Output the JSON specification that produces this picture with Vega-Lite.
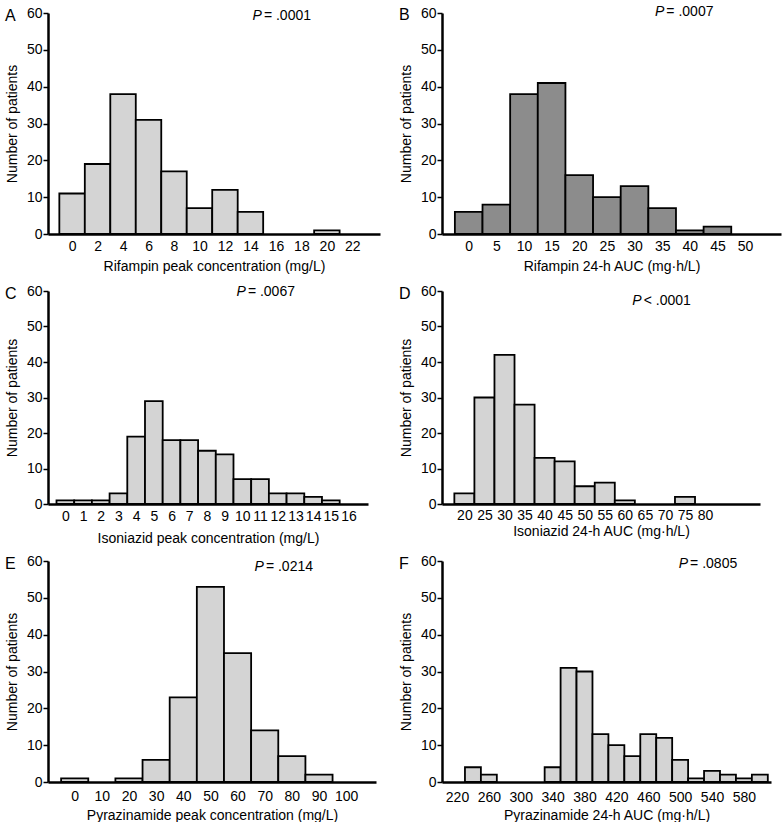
{
  "$schema": "https://vega.github.io/schema/vega-lite/v6.json",
  "background": "white",
  "padding": {"left": 5, "right": 5, "top": 4, "bottom": 0},
  "columns": 2,
  "spacing": {"row": 57, "column": 62},
  "bounds": "flush",
  "datasets": {
    "A": [
      {"lo": -1, "hi": 1, "n": 11}, {"lo": 1, "hi": 3, "n": 19}, {"lo": 3, "hi": 5, "n": 38},
      {"lo": 5, "hi": 7, "n": 31}, {"lo": 7, "hi": 9, "n": 17}, {"lo": 9, "hi": 11, "n": 7},
      {"lo": 11, "hi": 13, "n": 12}, {"lo": 13, "hi": 15, "n": 6}, {"lo": 19, "hi": 21, "n": 1}
    ],
    "B": [
      {"lo": -2.5, "hi": 2.5, "n": 6}, {"lo": 2.5, "hi": 7.5, "n": 8}, {"lo": 7.5, "hi": 12.5, "n": 38},
      {"lo": 12.5, "hi": 17.5, "n": 41}, {"lo": 17.5, "hi": 22.5, "n": 16}, {"lo": 22.5, "hi": 27.5, "n": 10},
      {"lo": 27.5, "hi": 32.5, "n": 13}, {"lo": 32.5, "hi": 37.5, "n": 7}, {"lo": 37.5, "hi": 42.5, "n": 1},
      {"lo": 42.5, "hi": 47.5, "n": 2}
    ],
    "C": [
      {"lo": -0.5, "hi": 0.5, "n": 1}, {"lo": 0.5, "hi": 1.5, "n": 1}, {"lo": 1.5, "hi": 2.5, "n": 1},
      {"lo": 2.5, "hi": 3.5, "n": 3}, {"lo": 3.5, "hi": 4.5, "n": 19}, {"lo": 4.5, "hi": 5.5, "n": 29},
      {"lo": 5.5, "hi": 6.5, "n": 18}, {"lo": 6.5, "hi": 7.5, "n": 18}, {"lo": 7.5, "hi": 8.5, "n": 15},
      {"lo": 8.5, "hi": 9.5, "n": 14}, {"lo": 9.5, "hi": 10.5, "n": 7}, {"lo": 10.5, "hi": 11.5, "n": 7},
      {"lo": 11.5, "hi": 12.5, "n": 3}, {"lo": 12.5, "hi": 13.5, "n": 3}, {"lo": 13.5, "hi": 14.5, "n": 2},
      {"lo": 14.5, "hi": 15.5, "n": 1}
    ],
    "D": [
      {"lo": 17.5, "hi": 22.5, "n": 3}, {"lo": 22.5, "hi": 27.5, "n": 30}, {"lo": 27.5, "hi": 32.5, "n": 42},
      {"lo": 32.5, "hi": 37.5, "n": 28}, {"lo": 37.5, "hi": 42.5, "n": 13}, {"lo": 42.5, "hi": 47.5, "n": 12},
      {"lo": 47.5, "hi": 52.5, "n": 5}, {"lo": 52.5, "hi": 57.5, "n": 6}, {"lo": 57.5, "hi": 62.5, "n": 1},
      {"lo": 72.5, "hi": 77.5, "n": 2}
    ],
    "E": [
      {"lo": -5, "hi": 5, "n": 1}, {"lo": 15, "hi": 25, "n": 1}, {"lo": 25, "hi": 35, "n": 6},
      {"lo": 35, "hi": 45, "n": 23}, {"lo": 45, "hi": 55, "n": 53}, {"lo": 55, "hi": 65, "n": 35},
      {"lo": 65, "hi": 75, "n": 14}, {"lo": 75, "hi": 85, "n": 7}, {"lo": 85, "hi": 95, "n": 2}
    ],
    "F": [
      {"lo": 230, "hi": 250, "n": 4}, {"lo": 250, "hi": 270, "n": 2}, {"lo": 330, "hi": 350, "n": 4},
      {"lo": 350, "hi": 370, "n": 31}, {"lo": 370, "hi": 390, "n": 30}, {"lo": 390, "hi": 410, "n": 13},
      {"lo": 410, "hi": 430, "n": 10}, {"lo": 430, "hi": 450, "n": 7}, {"lo": 450, "hi": 470, "n": 13},
      {"lo": 470, "hi": 490, "n": 12}, {"lo": 490, "hi": 510, "n": 6}, {"lo": 510, "hi": 530, "n": 1},
      {"lo": 530, "hi": 550, "n": 3}, {"lo": 550, "hi": 570, "n": 2}, {"lo": 570, "hi": 590, "n": 1},
      {"lo": 590, "hi": 610, "n": 2}
    ]
  },
  "concat": [
    {
      "title": {"text": "A"},
      "width": 332, "height": 221,
      "resolve": {"axis": {"x": "independent", "y": "independent"}},
      "layer": [
        {"data": {"name": "A"}, "mark": {"type": "bar", "fill": "#d4d4d4"},
         "encoding": {
           "x": {"field": "lo", "type": "quantitative", "scale": {"domain": [-1.89, 24.17], "nice": false, "zero": false},
                 "axis": {"values": [0,2,4,6,8,10,12,14,16,18,20,22], "labelOverlap": false, "title": "Rifampin peak concentration (mg/L)", "labelPadding": 5, "titlePadding": 6}},
           "x2": {"field": "hi"},
           "y": {"field": "n", "type": "quantitative", "scale": {"domain": [0, 60], "nice": false},
                 "axis": {"values": [0,10,20,30,40,50,60], "labelOverlap": false, "title": "Number of patients"}},
           "y2": {"datum": 0}
         }},
        {"data": {"values": [{"t": "P"}]}, "mark": {"type": "text", "fontStyle": "italic", "align": "right"},
         "encoding": {"x": {"datum": 14.9, "axis": null}, "y": {"datum": 59.2, "axis": null}, "text": {"field": "t"}}},
        {"data": {"values": [{"t": "= .0001"}]}, "mark": {"type": "text", "align": "left", "dx": 2},
         "encoding": {"x": {"datum": 14.9, "axis": null}, "y": {"datum": 59.2, "axis": null}, "text": {"field": "t"}}}
      ]
    },
    {
      "title": {"text": "B"},
      "width": 339, "height": 221,
      "resolve": {"axis": {"x": "independent", "y": "independent"}},
      "layer": [
        {"data": {"name": "B"}, "mark": {"type": "bar", "fill": "#8c8c8c"},
         "encoding": {
           "x": {"field": "lo", "type": "quantitative", "scale": {"domain": [-4.83, 56.5], "nice": false, "zero": false},
                 "axis": {"values": [0,5,10,15,20,25,30,35,40,45,50], "labelOverlap": false, "title": "Rifampin 24-h AUC (mg·h/L)", "labelPadding": 5, "titlePadding": 6}},
           "x2": {"field": "hi"},
           "y": {"field": "n", "type": "quantitative", "scale": {"domain": [0, 60], "nice": false},
                 "axis": {"values": [0,10,20,30,40,50,60], "labelOverlap": false, "title": "Number of patients"}},
           "y2": {"datum": 0}
         }},
        {"data": {"values": [{"t": "P"}]}, "mark": {"type": "text", "fontStyle": "italic", "align": "right"},
         "encoding": {"x": {"datum": 35.4, "axis": null}, "y": {"datum": 60.3, "axis": null}, "text": {"field": "t"}}},
        {"data": {"values": [{"t": "= .0007"}]}, "mark": {"type": "text", "align": "left", "dx": 2},
         "encoding": {"x": {"datum": 35.4, "axis": null}, "y": {"datum": 60.3, "axis": null}, "text": {"field": "t"}}}
      ]
    },
    {
      "title": {"text": "C"},
      "width": 320, "height": 213,
      "resolve": {"axis": {"x": "independent", "y": "independent"}},
      "layer": [
        {"data": {"name": "C"}, "mark": {"type": "bar", "fill": "#d4d4d4"},
         "encoding": {
           "x": {"field": "lo", "type": "quantitative", "scale": {"domain": [-0.98, 17.1], "nice": false, "zero": false},
                 "axis": {"values": [0,1,2,3,4,5,6,7,8,9,10,11,12,13,14,15,16], "labelOverlap": false, "title": "Isoniazid peak concentration (mg/L)", "labelPadding": 5, "titlePadding": 8}},
           "x2": {"field": "hi"},
           "y": {"field": "n", "type": "quantitative", "scale": {"domain": [0, 60], "nice": false},
                 "axis": {"values": [0,10,20,30,40,50,60], "labelOverlap": false, "title": "Number of patients"}},
           "y2": {"datum": 0}
         }},
        {"data": {"values": [{"t": "P"}]}, "mark": {"type": "text", "fontStyle": "italic", "align": "right"},
         "encoding": {"x": {"datum": 10.2, "axis": null}, "y": {"datum": 59.8, "axis": null}, "text": {"field": "t"}}},
        {"data": {"values": [{"t": "= .0067"}]}, "mark": {"type": "text", "align": "left", "dx": 2},
         "encoding": {"x": {"datum": 10.2, "axis": null}, "y": {"datum": 59.8, "axis": null}, "text": {"field": "t"}}}
      ]
    },
    {
      "title": {"text": "D"},
      "width": 318, "height": 213,
      "resolve": {"axis": {"x": "independent", "y": "independent"}},
      "layer": [
        {"data": {"name": "D"}, "mark": {"type": "bar", "fill": "#d4d4d4"},
         "encoding": {
           "x": {"field": "lo", "type": "quantitative", "scale": {"domain": [14.42, 93.7], "nice": false, "zero": false},
                 "axis": {"values": [20,25,30,35,40,45,50,55,60,65,70,75,80], "labelOverlap": false, "title": "Isoniazid 24-h AUC (mg·h/L)", "labelPadding": 4, "titlePadding": 2}},
           "x2": {"field": "hi"},
           "y": {"field": "n", "type": "quantitative", "scale": {"domain": [0, 60], "nice": false},
                 "axis": {"values": [0,10,20,30,40,50,60], "labelOverlap": false, "title": "Number of patients"}},
           "y2": {"datum": 0}
         }},
        {"data": {"values": [{"t": "P"}]}, "mark": {"type": "text", "fontStyle": "italic", "align": "right"},
         "encoding": {"x": {"datum": 64.2, "axis": null}, "y": {"datum": 57.2, "axis": null}, "text": {"field": "t"}}},
        {"data": {"values": [{"t": "< .0001"}]}, "mark": {"type": "text", "align": "left", "dx": 2},
         "encoding": {"x": {"datum": 64.2, "axis": null}, "y": {"datum": 57.2, "axis": null}, "text": {"field": "t"}}}
      ]
    },
    {
      "title": {"text": "E"},
      "width": 328, "height": 221,
      "resolve": {"axis": {"x": "independent", "y": "independent"}},
      "layer": [
        {"data": {"name": "E"}, "mark": {"type": "bar", "fill": "#d4d4d4"},
         "encoding": {
           "x": {"field": "lo", "type": "quantitative", "scale": {"domain": [-9.83, 111], "nice": false, "zero": false},
                 "axis": {"values": [0,10,20,30,40,50,60,70,80,90,100], "labelOverlap": false, "title": "Pyrazinamide peak concentration (mg/L)", "labelPadding": 7, "titlePadding": 5}},
           "x2": {"field": "hi"},
           "y": {"field": "n", "type": "quantitative", "scale": {"domain": [0, 60], "nice": false},
                 "axis": {"values": [0,10,20,30,40,50,60], "labelOverlap": false, "title": "Number of patients"}},
           "y2": {"datum": 0}
         }},
        {"data": {"values": [{"t": "P"}]}, "mark": {"type": "text", "fontStyle": "italic", "align": "right"},
         "encoding": {"x": {"datum": 69.7, "axis": null}, "y": {"datum": 58.4, "axis": null}, "text": {"field": "t"}}},
        {"data": {"values": [{"t": "= .0214"}]}, "mark": {"type": "text", "align": "left", "dx": 2},
         "encoding": {"x": {"datum": 69.7, "axis": null}, "y": {"datum": 58.4, "axis": null}, "text": {"field": "t"}}}
      ]
    },
    {
      "title": {"text": "F"},
      "width": 329, "height": 221,
      "resolve": {"axis": {"x": "independent", "y": "independent"}},
      "layer": [
        {"data": {"name": "F"}, "mark": {"type": "bar", "fill": "#d4d4d4"},
         "encoding": {
           "x": {"field": "lo", "type": "quantitative", "scale": {"domain": [201.2, 614], "nice": false, "zero": false},
                 "axis": {"values": [220,260,300,340,380,420,460,500,540,580], "labelOverlap": false, "title": "Pyrazinamide 24-h AUC (mg·h/L)", "labelPadding": 8, "titlePadding": 4}},
           "x2": {"field": "hi"},
           "y": {"field": "n", "type": "quantitative", "scale": {"domain": [0, 60], "nice": false},
                 "axis": {"values": [0,10,20,30,40,50,60], "labelOverlap": false, "title": "Number of patients"}},
           "y2": {"datum": 0}
         }},
        {"data": {"values": [{"t": "P"}]}, "mark": {"type": "text", "fontStyle": "italic", "align": "right"},
         "encoding": {"x": {"datum": 510, "axis": null}, "y": {"datum": 59.1, "axis": null}, "text": {"field": "t"}}},
        {"data": {"values": [{"t": "= .0805"}]}, "mark": {"type": "text", "align": "left", "dx": 2},
         "encoding": {"x": {"datum": 510, "axis": null}, "y": {"datum": 59.1, "axis": null}, "text": {"field": "t"}}}
      ]
    }
  ],
  "config": {
    "view": {"stroke": null},
    "axis": {
      "labelFont": "Liberation Sans", "titleFont": "Liberation Sans",
      "labelFontSize": 14, "titleFontSize": 14, "titleFontWeight": "normal",
      "labelColor": "#000", "titleColor": "#000", "domainColor": "#000", "domainWidth": 2.5,
      "tickColor": "#000", "grid": false, "labelFlush": false, "labelOverlap": false
    },
    "axisX": {"ticks": false, "tickSize": 0},
    "axisY": {"tickSize": 5, "tickWidth": 1.5, "labelPadding": 1, "titlePadding": 7},
    "bar": {"stroke": "#000", "strokeWidth": 1.8},
    "text": {"font": "Liberation Sans", "fontSize": 14, "baseline": "middle", "color": "#000"},
    "title": {"font": "Liberation Sans", "fontSize": 16, "fontWeight": "normal", "anchor": "start", "frame": "group",
              "baseline": "middle", "offset": 0, "dx": -43, "dy": 22, "color": "#000"}
  }
}
